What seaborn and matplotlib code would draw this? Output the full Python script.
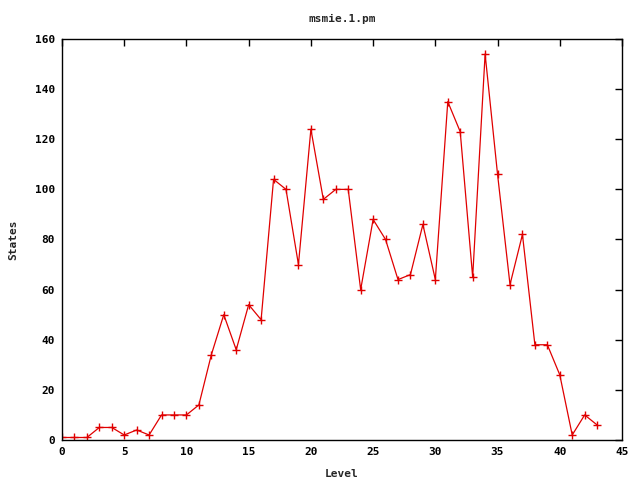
import matplotlib
matplotlib.use("Agg")
import matplotlib.pyplot as plt
import seaborn as sns
import pandas as pd

levels = list(range(44))
states = [1, 1, 1, 5, 5, 2, 4, 2, 10, 10, 10, 14, 34, 50, 36, 54, 48, 104, 100, 70,
          124, 96, 100, 100, 60, 88, 80, 64, 66, 86, 64, 135, 123, 65, 154, 106, 62, 82,
          38, 38, 26, 2, 10, 6]
x_ticks = [0, 5, 10, 15, 20, 25, 30, 35, 40, 45]
y_ticks = [0, 20, 40, 60, 80, 100, 120, 140, 160]

df = pd.DataFrame({"Level": levels, "States": states})

sns.set_style("white")
plt.rcParams['font.family'] = ['DejaVu Sans Mono']
plt.rcParams['font.weight'] = 'bold'

fig = plt.figure(figsize=(6.4, 4.8), dpi=100)
ax = fig.add_axes([62/640, 1-440/480, 560/640, 401/480])
sns.lineplot(data=df, x="Level", y="States", ax=ax, color="#e00000", linewidth=0.9,
             marker="+", markersize=6, markeredgewidth=1.0, markeredgecolor="#e00000")
ax.set_xlim(0, 45)
ax.set_ylim(0, 160)
ax.set_xticks(x_ticks)
ax.set_yticks(y_ticks)
ax.tick_params(direction="in", top=True, right=True, length=5, width=1, labelsize=8,
               colors="black", pad=5)
for lbl in ax.get_xticklabels() + ax.get_yticklabels():
    lbl.set_fontweight("bold")
for s in ax.spines.values():
    s.set_color("black")
    s.set_linewidth(1)
ax.set_xlabel("Level", fontsize=8, fontweight="bold", labelpad=9)
ax.set_ylabel("States", fontsize=8, fontweight="bold", labelpad=12)
ax.set_title("msmie.1.pm", fontsize=8, fontweight="bold", pad=12)
fig.savefig("out.png", dpi=100)
